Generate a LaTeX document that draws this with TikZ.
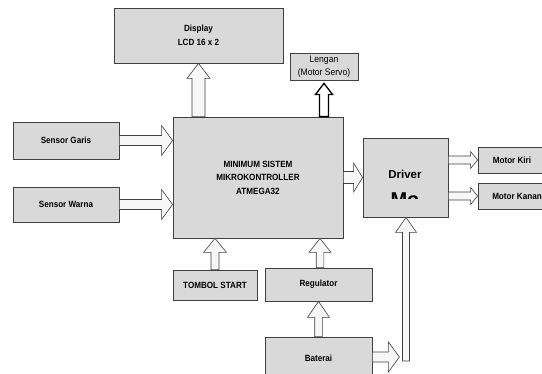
\documentclass[tikz,border=0pt]{standalone}
\usepackage{fontspec}
\usetikzlibrary{calc}
\newfontfamily\labfont{Liberation Sans}[FakeStretch=0.9]
\newfontfamily\drvfont{Liberation Sans}
\definecolor{boxfill}{HTML}{D9D9D9}
\definecolor{boxline}{HTML}{404040}
\definecolor{arrfill}{HTML}{F7F7F7}
\newcommand\blockarrow[6][]{%
  \coordinate (ba-h) at ($(#3)!#6!(#2)$);
  \draw[arrowshape,#1] ($(#2)!#4!-90:(#3)$) -- ($(ba-h)!#4!-90:(#3)$) -- ($(ba-h)!#5!-90:(#3)$) -- (#3) -- ($(ba-h)!#5!90:(#3)$) -- ($(ba-h)!#4!90:(#3)$) -- ($(#2)!#4!90:(#3)$) -- cycle;}
\tikzset{
  blk/.style={draw=boxline, fill=boxfill, line width=0.8pt, inner sep=0pt, align=center,
    font=\labfont\bfseries\fontsize{9}{13.5}\selectfont},
  arrowshape/.style={draw=boxline, fill=arrfill, line width=0.6pt, line join=miter},
  servoarrow/.style={draw=black, fill=white, line width=1.3pt}
}
\begin{document}
\begin{tikzpicture}[x=1pt,y=-1pt]
\useasboundingbox (0,0) rectangle (542,373);
\clip (0,0) rectangle (542,373);
\fill[white] (0,0) rectangle (542,373);
% boxes
\node[blk, minimum width=169pt, minimum height=55pt] (disp) at (198.5,35.5) {Display\\LCD 16 x 2};
\node[blk, minimum width=68pt, minimum height=27pt, font=\labfont\fontsize{9.5}{13}\selectfont] (lengan) at (324,66.5) {Lengan\\(Motor Servo)};
\node[blk, minimum width=106pt, minimum height=37pt] (sg) at (66,140.5) {Sensor Garis};
\node[blk, minimum width=106pt, minimum height=35pt] (sw) at (66,204.5) {Sensor Warna};
\node[blk, minimum width=170pt, minimum height=121pt] (main) at (258,177.5) {MINIMUM SISTEM\\MIKROKONTROLLER\\ATMEGA32};
\node[blk, minimum width=85pt, minimum height=79pt] (drv) at (405.5,177.5) {};
\node[blk, minimum width=68pt, minimum height=26pt] (mk) at (512,160) {Motor Kiri};
\node[blk, minimum width=78pt, minimum height=26pt] (mkn) at (517,196) {Motor Kanan};
\node[blk, minimum width=84pt, minimum height=30pt] (tombol) at (215,285) {TOMBOL START};
\node[blk, minimum width=107pt, minimum height=33pt] (reg) at (318.5,284.5) {Regulator};
\node[blk, minimum width=107pt, minimum height=43pt] (bat) at (318.5,358.5) {Baterai};
% driver text
\node[anchor=base, inner sep=0pt, font=\drvfont\bfseries\fontsize{11.5}{13}\selectfont] (drvtxt) at (405,178) {Driver};
\begin{scope}
  \clip (363,138) rectangle (448,198);
  \node[anchor=base, inner sep=0pt, font=\drvfont\bfseries\fontsize{20}{22}\selectfont] (drvmo) at (405,206) {Mo};
\end{scope}
% coordinates for arrows
\coordinate (a1s) at (disp.south |- main.north);
\coordinate (a2s) at (lengan.south |- main.north);
\coordinate (a2e) at ($(lengan.south)+(0,3)$);
\coordinate (a3e) at (sg.east -| main.west);
\coordinate (a4e) at (sw.east -| main.west);
\coordinate (a5e) at (main.east -| drv.west);
\coordinate (a6s) at (mk.west -| drv.east);
\coordinate (a7s) at (mkn.west -| drv.east);
\coordinate (a8e) at (tombol.north |- main.south);
\coordinate (a9s) at ($(reg.north)+(1.5,0)$);
\coordinate (a9e) at (a9s |- main.south);
\coordinate (batend) at ($(bat.east)+(27,-1.5)$);
\coordinate (bats) at ($(bat.east)+(0,-1.5)$);
\coordinate (vstart) at ($(drv.south |- bat.east)+(0.5,2.5)$);
\coordinate (vend) at ($(drv.south)+(0.5,0)$);
% arrows
\blockarrow{a1s}{disp.south}{6.5pt}{11.5pt}{15pt}
\blockarrow[servoarrow]{a2s}{a2e}{4.5pt}{8.5pt}{11pt}
\blockarrow{sg.east}{a3e}{5pt}{15pt}{11pt}
\blockarrow{sw.east}{a4e}{5pt}{15pt}{11pt}
\blockarrow{main.east}{a5e}{6pt}{14.5pt}{9pt}
\blockarrow{a6s}{mk.west}{4pt}{8.5pt}{7pt}
\blockarrow{a7s}{mkn.west}{4pt}{8.5pt}{7pt}
\blockarrow{tombol.north}{a8e}{4pt}{11.5pt}{14pt}
\blockarrow{a9s}{a9e}{3.8pt}{11pt}{14pt}
\blockarrow{bat.north}{reg.south}{3.8pt}{11pt}{16pt}
\blockarrow{bats}{batend}{5pt}{15pt}{11pt}
\blockarrow{vstart}{vend}{3.5pt}{10.5pt}{15pt}
\end{tikzpicture}
\end{document}
